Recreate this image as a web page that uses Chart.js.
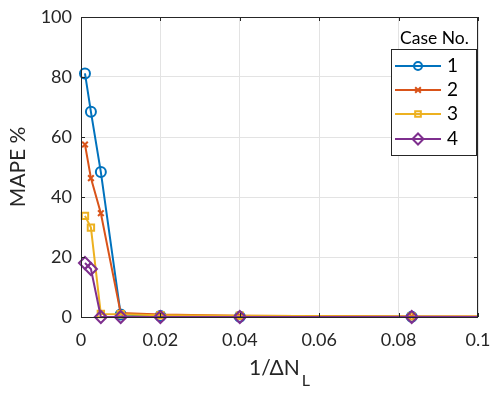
<!DOCTYPE html>
<html><head><meta charset="utf-8">
<script src="https://cdn.jsdelivr.net/npm/chart.js@4.4.1/dist/chart.umd.min.js"></script>
<style>html,body{margin:0;padding:0;background:#fff}#wrap{width:491px;height:393px}</style>
</head><body><div id="wrap"><canvas id="c" width="491" height="393"></canvas></div>
<script>
const xValues = [0.001, 0.0025, 0.005, 0.01, 0.02, 0.04, 0.0833, 0.125];
const case1 = [81.2, 68.4, 48.3, 0.8, 0.3, 0.1, 0.05, 0.0];
const case2 = [57.5, 46.3, 34.6, 1.3, 0.8, 0.4, 0.2, 0.1];
const case3 = [33.7, 29.8, 1.0, 0.9, 0.6, 0.4, 0.2, 0.1];
const case4 = [18.0, 16.0, 0, 0, 0, 0, 0, 0];
const caseLabels = ['1', '2', '3', '4'];
const xTicks = [0, 0.02, 0.04, 0.06, 0.08, 0.1];
const yTicks = [0, 20, 40, 60, 80, 100];

const colors = ['#0072BD', '#D95319', '#EDB120', '#7E2F8E'];
const styles = ['circle', 'crossRot', 'rect', 'rectRot'];
const radii = [5, 4, 4.5, 6];
const FONT = 'Lato, "Open Sans", sans-serif';
const AX = '#262626';

const series = [case1, case2, case3, case4];
const datasets = series.map((s, i) => ({
  label: caseLabels[i],
  data: s.map((v, k) => ({x: xValues[k], y: v})),
  borderColor: colors[i],
  backgroundColor: 'rgba(0,0,0,0)',
  borderWidth: 2,
  pointStyle: styles[i],
  pointRadius: radii[i],
  pointBorderWidth: 2,
  pointBorderColor: colors[i],
  pointBackgroundColor: 'rgba(0,0,0,0)',
  tension: 0,
  order: 3 - i,
  clip: {left: 10, top: 10, right: 0, bottom: 10}
}));

const decor = {
  id: 'decor',
  afterDraw(chart) {
    const {ctx, chartArea: a, scales} = chart;
    ctx.save();
    ctx.strokeStyle = AX; ctx.lineWidth = 1;
    ctx.strokeRect(a.left + 0.5, a.top + 0.5, a.right - a.left - 1, a.bottom - a.top);
    const tl = 4;
    ctx.beginPath();
    xTicks.forEach(t => {
      const px = Math.round(scales.x.getPixelForValue(t)) + 0.5;
      ctx.moveTo(px, a.bottom); ctx.lineTo(px, a.bottom - tl);
      ctx.moveTo(px, a.top); ctx.lineTo(px, a.top + tl);
    });
    yTicks.forEach(t => {
      const py = Math.round(scales.y.getPixelForValue(t)) + 0.5;
      ctx.moveTo(a.left, py); ctx.lineTo(a.left + tl, py);
      ctx.moveTo(a.right, py); ctx.lineTo(a.right - tl, py);
    });
    ctx.stroke();
    // axis titles
    ctx.fillStyle = AX;
    ctx.textBaseline = 'middle';
    const main = '1/\u0394N';
    ctx.font = '21px ' + FONT;
    const w1 = ctx.measureText(main).width;
    ctx.font = '16px ' + FONT;
    const w2 = ctx.measureText('L').width;
    const cx = (a.left + a.right) / 2;
    const sx = cx - (w1 + w2 + 2) / 2;
    ctx.font = '21px ' + FONT;
    ctx.textAlign = 'left';
    ctx.fillText(main, sx, 368);
    ctx.font = '16px ' + FONT;
    ctx.fillText('L', sx + w1 + 2, 381);
    ctx.save();
    ctx.translate(18, (a.top + a.bottom) / 2);
    ctx.rotate(-Math.PI / 2);
    ctx.font = '21px ' + FONT;
    ctx.textAlign = 'center';
    ctx.fillText('MAPE %', 0, 0);
    ctx.restore();
    // legend
    const L = 391, T = 49, R = 476, B = 155;
    ctx.font = '17.5px ' + FONT;
    ctx.textAlign = 'center';
    ctx.fillStyle = '#000';
    ctx.fillText('Case No.', (L + R) / 2 + 1, 38);
    ctx.fillStyle = '#fff';
    ctx.fillRect(L, T, R - L, B - T);
    ctx.strokeStyle = AX; ctx.lineWidth = 1;
    ctx.strokeRect(L + 0.5, T + 0.5, R - L, B - T);
    const ys = [66, 90, 114, 139];
    caseLabels.forEach((lab, i) => {
      const y = ys[i];
      ctx.strokeStyle = colors[i]; ctx.lineWidth = 2;
      ctx.beginPath(); ctx.moveTo(395, y); ctx.lineTo(441, y); ctx.stroke();
      ctx.fillStyle = 'rgba(0,0,0,0)';
      ctx.strokeStyle = colors[i];
      Chart.helpers.drawPoint(ctx, {pointStyle: styles[i], radius: i === 3 ? 5.5 : 4, borderWidth: 2, rotation: 0}, 418, y);
      ctx.fillStyle = '#000';
      ctx.font = '19px ' + FONT;
      ctx.textAlign = 'left';
      ctx.fillText(lab, 447, y);
    });
    ctx.restore();
  }
};

new Chart(document.getElementById('c'), {
  type: 'line',
  data: {datasets},
  options: {
    responsive: false,
    animation: false,
    events: [],
    layout: {padding: {left: 0, right: 13, top: 17, bottom: 0}},
    plugins: {legend: {display: false}, tooltip: {enabled: false}},
    scales: {
      x: {
        type: 'linear', min: 0, max: 0.1,
        afterFit(s) { s.height = 76; s.paddingLeft = 0; s.paddingRight = 0; },
        afterBuildTicks(s) { s.ticks = xTicks.map(v => ({value: v})); },
        grid: {color: '#e3e3e3', tickLength: 0, drawTicks: false},
        border: {display: false},
        ticks: {color: AX, font: {family: FONT, size: 18}, padding: 12, maxRotation: 0,
          callback: v => String(v)}
      },
      y: {
        type: 'linear', min: 0, max: 100,
        afterFit(s) { s.width = 81; s.paddingTop = 0; s.paddingBottom = 0; },
        afterBuildTicks(s) { s.ticks = yTicks.map(v => ({value: v})); },
        grid: {color: '#e3e3e3', tickLength: 0, drawTicks: false},
        border: {display: false},
        ticks: {color: AX, font: {family: FONT, size: 18}, padding: 9}
      }
    }
  },
  plugins: [decor]
});
</script></body></html>
